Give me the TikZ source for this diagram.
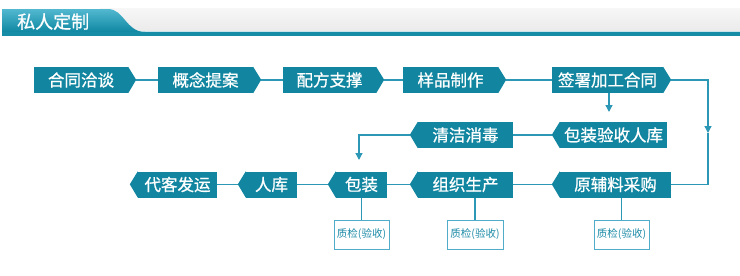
\documentclass[tikz,border=0pt]{standalone}
\usepackage{fontspec}
\setmainfont{Noto Sans CJK SC}
\newfontfamily\boxfont[FakeBold=0.8]{Noto Sans CJK SC}
\usetikzlibrary{arrows.meta,calc}
\definecolor{boxc}{RGB}{18,134,160}
\definecolor{linec}{RGB}{45,152,182}
\definecolor{qborder}{RGB}{80,172,200}
\definecolor{qtext}{RGB}{30,140,168}
\definecolor{barc}{RGB}{22,140,166}
\definecolor{tabtop}{RGB}{82,184,208}
\definecolor{tabbot}{RGB}{16,136,162}
\definecolor{greytop}{RGB}{247,247,247}
\definecolor{greybot}{RGB}{234,234,234}
\definecolor{lightline}{RGB}{200,228,234}
\begin{document}
\begin{tikzpicture}[x=1pt,y=-1pt,
  stepbox/.style={fill=boxc, text=white, minimum height=26pt, inner sep=0pt,
    font=\boxfont\fontsize{16.5}{16.5}\selectfont},
  conn/.style={draw=linec, line width=1.3pt},
  qbox/.style={draw=qborder, fill=white, minimum height=29pt, inner sep=0pt,
    text=qtext, font=\fontsize{10.5}{10.5}\selectfont, line width=1pt},
  arr/.style={-{Triangle[width=7pt,length=7pt]}}
]
\useasboundingbox (0,0) rectangle (740,276);

% header
\shade[top color=greytop, bottom color=greybot] (100,8) rectangle (740,32);
\fill[lightline] (140,31) rectangle (740,32.5);
\shade[top color=tabtop, bottom color=tabbot] (2,9) -- (108,9)
  .. controls (124,9) and (126,32) .. (145,32) -- (2,32) -- cycle;
\fill[barc] (2,32) rectangle (740,36);
\node[font=\boxfont\fontsize{18}{18}\selectfont, text=white, anchor=west, inner sep=0pt] (title) at (17,21.5) {私人定制};

% row 1 (right-pointing)
\node[stepbox, minimum width=94pt] (n1) at (81,80) {合同洽谈};
\node[stepbox, minimum width=95pt] (n2) at (205.5,80) {概念提案};
\node[stepbox, minimum width=93pt] (n3) at (329.5,80) {配方支撑};
\node[stepbox, minimum width=95pt] (n4) at (450.5,80) {样品制作};
\node[stepbox, minimum width=111pt] (n5) at (607.5,80) {签署加工合同};
\foreach \n in {n1,n2,n3,n4,n5}{
  \fill[boxc] (\n.north east) -- ++(8,13) -- (\n.south east) -- cycle;
  \coordinate (\n t) at ($(\n.east)+(8,0)$);
}

% row 2 (left-pointing)
\node[stepbox, minimum width=107pt] (m1) at (613.5,135) {包装验收人库};
\node[stepbox, minimum width=95pt] (m2) at (465.5,135) {清洁消毒};

% row 3 (left-pointing)
\node[stepbox, minimum width=111pt] (r1) at (615.5,184.5) {原辅料采购};
\node[stepbox, minimum width=95pt] (r2) at (465.5,184.5) {组织生产};
\node[stepbox, minimum width=51pt] (r3) at (361.5,184.5) {包装};
\node[stepbox, minimum width=51pt] (r4) at (271.5,184.5) {人库};
\node[stepbox, minimum width=79pt] (r5) at (177.5,184.5) {代客发运};
\foreach \n in {m1,m2,r1,r2,r3,r4,r5}{
  \fill[boxc] (\n.north west) -- ++(-8,13) -- (\n.south west) -- cycle;
  \coordinate (\n t) at ($(\n.west)+(-8,0)$);
}

% quality boxes
\node[qbox, minimum width=55pt] (q1) at (361.5,234.5) {质检(验收)};
\node[qbox, minimum width=56pt] (q2) at (475,234.5) {质检(验收)};
\node[qbox, minimum width=55pt] (q3) at (621.5,234.5) {质检(验收)};

% connectors row 1
\draw[conn] (n1t) -- (n2.west);
\draw[conn] (n2t) -- (n3.west);
\draw[conn] (n3t) -- (n4.west);
\draw[conn] (n4t) -- (n5.west);

% right loop
\coordinate (rmid) at (708,133);
\draw[conn,arr] (n5t) -| (rmid);
\draw[conn] (rmid) |- (r1.east);

% down arrow
\coordinate (d1) at (609,112);
\draw[conn,arr] (n5.south -| d1) -- (d1);

% row 2
\draw[conn] (m1t) -- (m2.east);
\coordinate (d2) at (359,160);
\draw[conn,arr] (m2t) -| (d2);

% row 3
\draw[conn] (r1t) -- (r2.east);
\draw[conn] (r2t) -- (r3.east);
\draw[conn] (r3t) -- (r4.east);
\draw[conn] (r4t) -- (r5.east);

% quality lines
\draw[conn] (q1.north) -- (q1.north |- r3.south);
\draw[conn] (q2.north) -- (q2.north |- r2.south);
\draw[conn] (q3.north) -- (q3.north |- r1.south);
\end{tikzpicture}
\end{document}
